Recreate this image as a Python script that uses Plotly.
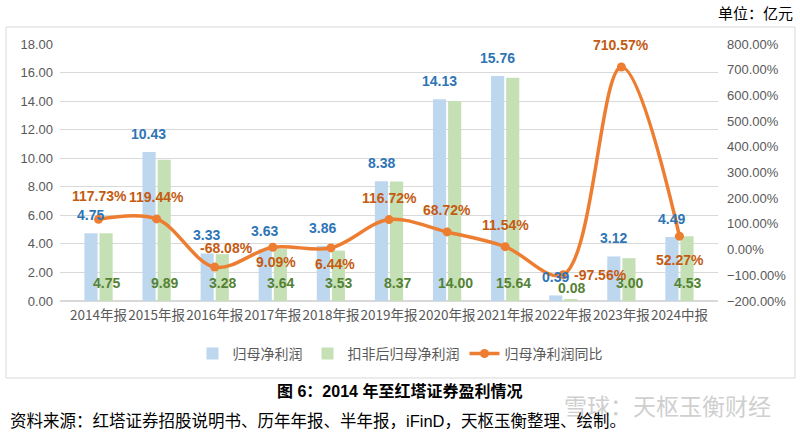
import plotly.graph_objects as go

categories = ["2014年报", "2015年报", "2016年报", "2017年报", "2018年报", "2019年报",
              "2020年报", "2021年报", "2022年报", "2023年报", "2024中报"]
net_profit = [4.75, 10.43, 3.33, 3.63, 3.86, 8.38, 14.13, 15.76, 0.39, 3.12, 4.49]
net_profit_deducted = [4.75, 9.89, 3.28, 3.64, 3.53, 8.37, 14.00, 15.64, 0.08, 3.00, 4.53]
yoy_growth = [117.73, 119.44, -68.08, 9.09, 6.44, 116.72, 68.72, 11.54, -97.56, 710.57, 52.27]

# label offsets (pixels) for the growth-rate labels
yoy_xshift = [1, 0, 12, 3, 4, 0, 0, 0, 37, 0, 1]
yoy_yshift = [23, 22, 19, -15, -16, 22, 22, 22, 0, 22, -24]
green_yshift = [18, 18, 18, 18, 18, 18, 18, 18, 13, 18, 18]

BLUE = "#BDD7EE"
GREEN = "#C5E0B4"
ORANGE = "#ED7D31"
BLUE_TXT = "#2E75B6"
GREEN_TXT = "#548235"
ORANGE_TXT = "#C55A11"
GREY = "#595959"
NUM_FONT = "Liberation Sans, Arial, sans-serif"
CJK_FONT = "Noto Sans CJK SC, sans-serif"

fig = go.Figure()
fig.add_trace(go.Bar(x=categories, y=net_profit, name="归母净利润",
                     marker=dict(color=BLUE, line=dict(width=0))))
fig.add_trace(go.Bar(x=categories, y=net_profit_deducted, name="扣非后归母净利润",
                     marker=dict(color=GREEN, line=dict(width=0))))
fig.add_trace(go.Scatter(x=categories, y=yoy_growth, name="归母净利润同比", yaxis="y2",
                         mode="lines+markers",
                         line=dict(color=ORANGE, width=3.5, shape="spline", smoothing=1.0),
                         marker=dict(color=ORANGE, size=9)))

annotations = []
for c, v in zip(categories, net_profit):
    annotations.append(dict(x=c, y=v, xref="x", yref="y", text=f"{v:.2f}", showarrow=False,
                            xshift=-8, yshift=18, yanchor="middle",
                            font=dict(family=NUM_FONT, size=14, color=BLUE_TXT, weight="bold")))
for c, v, ys in zip(categories, net_profit_deducted, green_yshift):
    annotations.append(dict(x=c, y=0, xref="x", yref="y", text=f"{v:.2f}", showarrow=False,
                            xshift=8, yshift=ys, yanchor="middle",
                            font=dict(family=NUM_FONT, size=14, color=GREEN_TXT, weight="bold")))
for c, v, xs, ys in zip(categories, yoy_growth, yoy_xshift, yoy_yshift):
    annotations.append(dict(x=c, y=v, xref="x", yref="y2", text=f"{v:.2f}%", showarrow=False,
                            xshift=xs, yshift=ys, yanchor="middle",
                            font=dict(family=NUM_FONT, size=14, color=ORANGE_TXT, weight="bold")))

annotations += [
    dict(text="单位：亿元", xref="paper", yref="paper", x=1.117, y=1.1245,
         xanchor="right", yanchor="middle", showarrow=False,
         font=dict(family=CJK_FONT, size=15, color="#000000")),
    dict(text="图 6：2014 年至红塔证券盈利情况", xref="paper", yref="paper", x=0.5167, y=-0.35,
         xanchor="center", yanchor="middle", showarrow=False,
         font=dict(family="Liberation Sans, Noto Sans CJK SC, sans-serif", size=16,
                   color="#000000", weight="bold")),
    dict(text="雪球：天枢玉衡财经", xref="paper", yref="paper", x=0.763, y=-0.405,
         xanchor="left", yanchor="middle", showarrow=False,
         font=dict(family=CJK_FONT, size=23, color="#CFCFCF")),
    dict(text="资料来源：红塔证券招股说明书、历年年报、半年报，iFinD，天枢玉衡整理、绘制。",
         xref="paper", yref="paper", x=-0.079, y=-0.465,
         xanchor="left", yanchor="middle", showarrow=False,
         font=dict(family="Liberation Sans, Noto Sans CJK SC, sans-serif", size=16.5, color="#000000")),
]

fig.update_layout(
    width=800, height=432,
    margin=dict(l=60, r=82, t=44, b=131),
    paper_bgcolor="white", plot_bgcolor="white",
    barmode="group", bargap=0.48, bargroupgap=0.13,
    showlegend=True,
    legend=dict(orientation="h", x=0.5167, xanchor="center", y=-0.206, yanchor="middle",
                font=dict(family=CJK_FONT, size=14, color=GREY),
                bgcolor="rgba(0,0,0,0)"),
    xaxis=dict(type="category", showgrid=False, showline=False, zeroline=False, ticks="",
               tickangle=0, ticklabelstandoff=4,
               tickfont=dict(family=CJK_FONT, size=13.5, color=GREY)),
    yaxis=dict(range=[0, 18], dtick=2, tickformat=".2f", showgrid=True, gridcolor="#D9D9D9",
               gridwidth=1, zeroline=True, zerolinecolor="#D9D9D9", showline=False, ticks="",
               ticklabelstandoff=6,
               tickfont=dict(family=NUM_FONT, size=13, color=GREY)),
    yaxis2=dict(range=[-200, 800], dtick=100, tickformat=".2f", ticksuffix="%",
                overlaying="y", side="right", showgrid=False, zeroline=False, showline=False,
                ticks="", ticklabelstandoff=8,
                tickfont=dict(family=NUM_FONT, size=13, color=GREY)),
    annotations=annotations,
    shapes=[dict(type="rect", xref="paper", yref="paper", x0=-0.082, x1=1.117,
                 y0=-0.2996, y1=1.066, line=dict(color="#D9D9D9", width=1),
                 fillcolor="rgba(0,0,0,0)", layer="below")],
)

fig.write_html("out.html", config={"displayModeBar": False},
               post_script="document.body.style.margin='0';document.body.style.overflow='hidden';")
